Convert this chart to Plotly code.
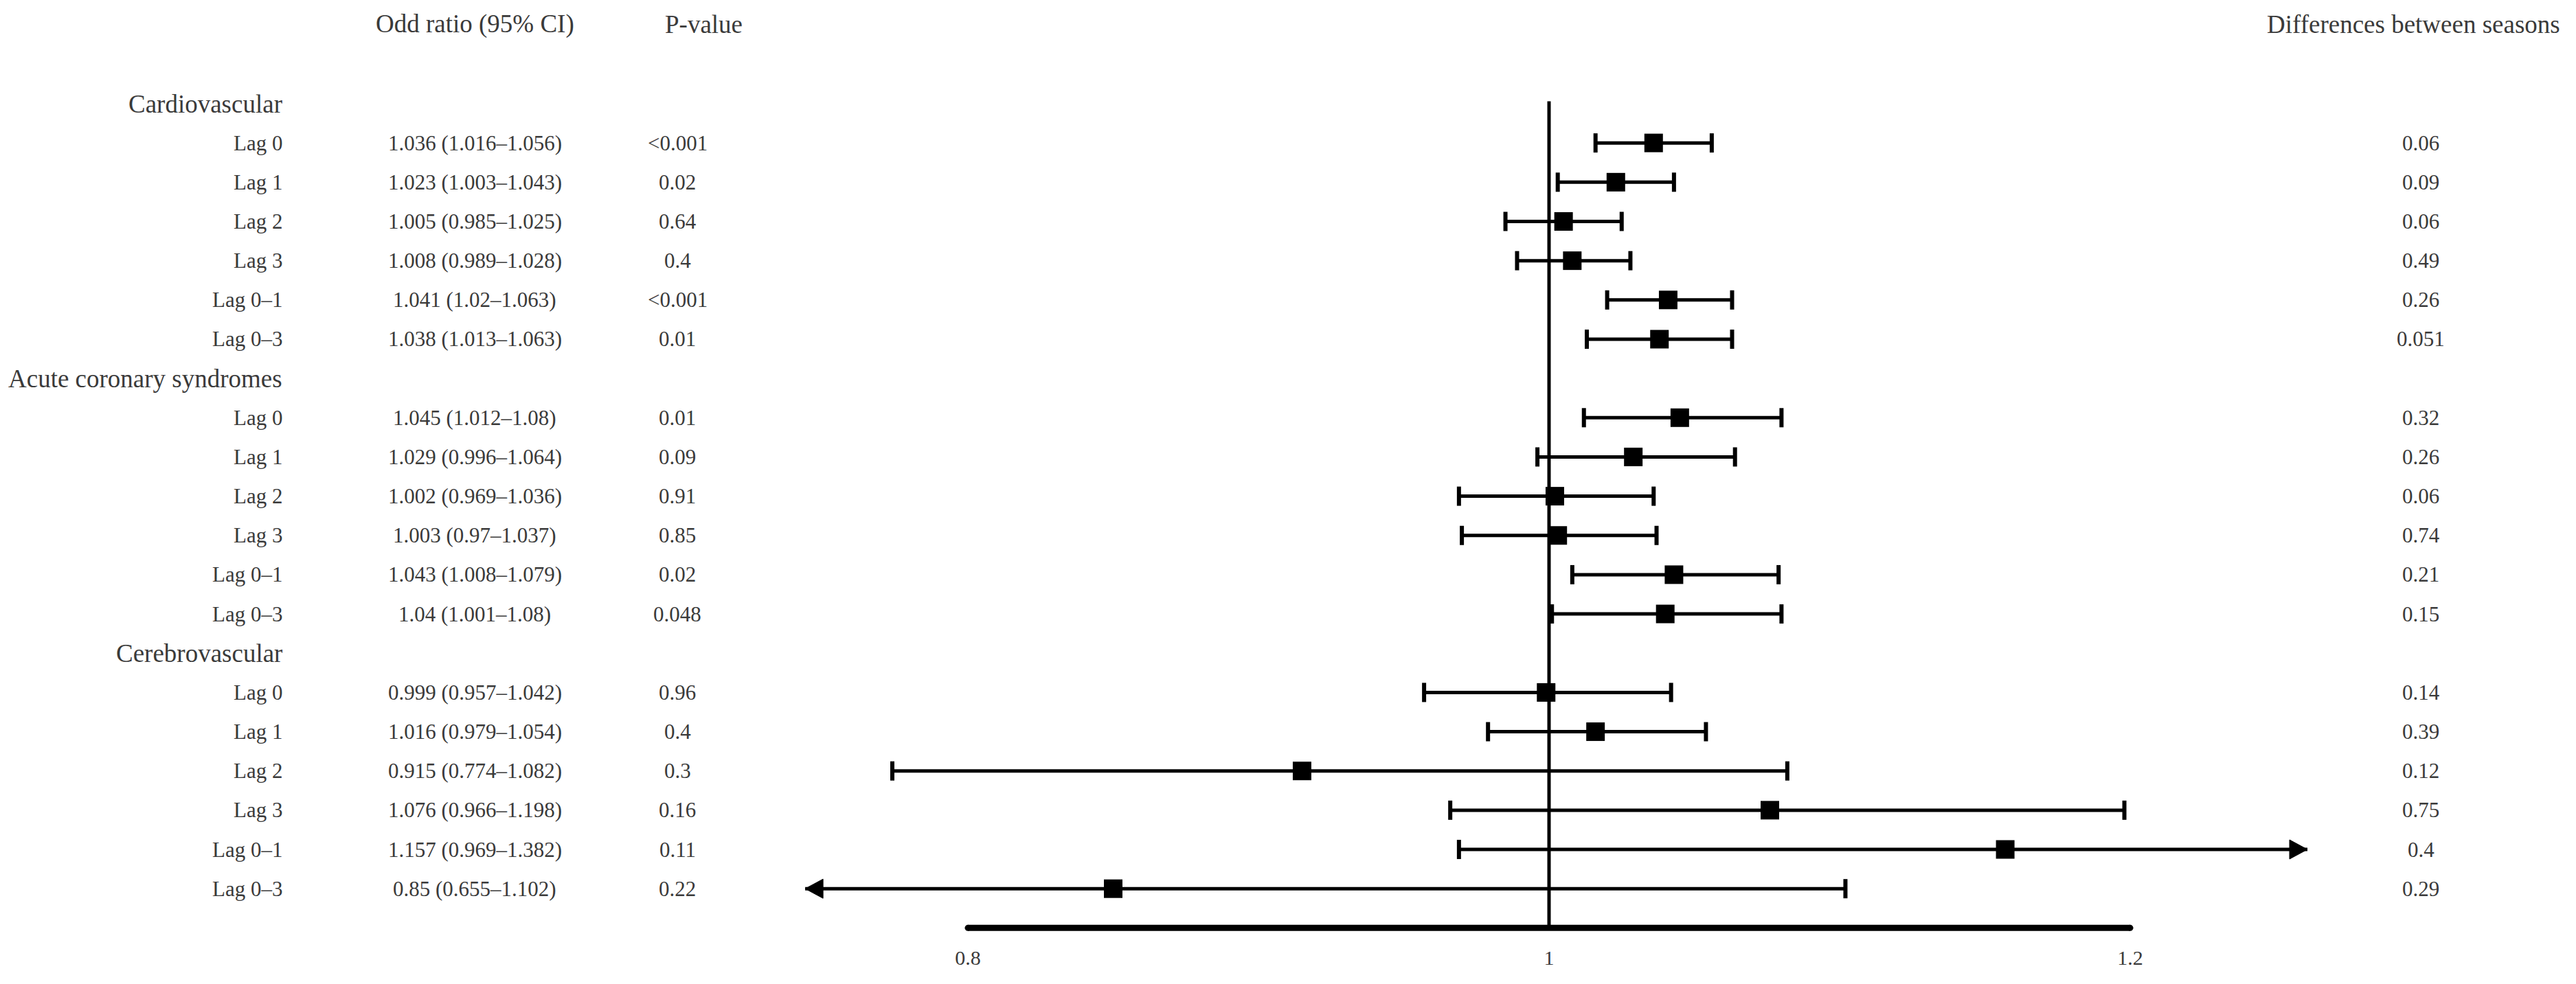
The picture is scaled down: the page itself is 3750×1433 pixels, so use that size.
import plotly.graph_objects as go

# ---------------- data ----------------
groups = ["Cardiovascular", "Acute coronary syndromes", "Cerebrovascular"]
lags = ["Lag 0", "Lag 1", "Lag 2", "Lag 3", "Lag 0–1", "Lag 0–3"]

or_cardio = [1.036, 1.023, 1.005, 1.008, 1.041, 1.038]
lo_cardio = [1.016, 1.003, 0.985, 0.989, 1.02, 1.013]
hi_cardio = [1.056, 1.043, 1.025, 1.028, 1.063, 1.063]
p_cardio = ["<0.001", "0.02", "0.64", "0.4", "<0.001", "0.01"]
diff_cardio = ["0.06", "0.09", "0.06", "0.49", "0.26", "0.051"]

or_acs = [1.045, 1.029, 1.002, 1.003, 1.043, 1.04]
lo_acs = [1.012, 0.996, 0.969, 0.97, 1.008, 1.001]
hi_acs = [1.08, 1.064, 1.036, 1.037, 1.079, 1.08]
p_acs = ["0.01", "0.09", "0.91", "0.85", "0.02", "0.048"]
diff_acs = ["0.32", "0.26", "0.06", "0.74", "0.21", "0.15"]

or_cereb = [0.999, 1.016, 0.915, 1.076, 1.157, 0.85]
lo_cereb = [0.957, 0.979, 0.774, 0.966, 0.969, 0.655]
hi_cereb = [1.042, 1.054, 1.082, 1.198, 1.382, 1.102]
p_cereb = ["0.96", "0.4", "0.3", "0.16", "0.11", "0.22"]
diff_cereb = ["0.14", "0.39", "0.12", "0.75", "0.4", "0.29"]

x_ticks = [0.8, 1, 1.2]
x_tick_labels = ["0.8", "1", "1.2"]
ref_value = 1
clip_low, clip_high = 0.744, 1.261

headers = ["Odd ratio (95% CI)", "P-value", "Differences between seasons"]

# ---------------- layout constants ----------------
W, H = 3750, 1433
MB = 59
PLOT_H = H - MB
PX_PER_UNIT = 4230.0          # x pixels per OR unit
X_REF_PX = 2255.0             # pixel of OR = 1
ROW0_PX = 151.0
ROW_PX = 57.16
x_range = [1 - X_REF_PX / PX_PER_UNIT, 1 + (W - X_REF_PX) / PX_PER_UNIT]
y_top = -ROW0_PX / ROW_PX
y_bot = (PLOT_H - ROW0_PX) / ROW_PX

FONT = "Liberation Serif, Times New Roman, serif"
TXT = "#3a3a3a"

or_all = [or_cardio, or_acs, or_cereb]
lo_all = [lo_cardio, lo_acs, lo_cereb]
hi_all = [hi_cardio, hi_acs, hi_cereb]
p_all = [p_cardio, p_acs, p_cereb]
d_all = [diff_cardio, diff_acs, diff_cereb]

fig = go.Figure()

rows, ors, los, his, or_txt, p_txt, d_txt, lag_txt = [], [], [], [], [], [], [], []
group_rows = []
for g in range(3):
    group_rows.append(7 * g)
    for k in range(6):
        r = 7 * g + k + 1
        rows.append(r)
        ors.append(or_all[g][k])
        los.append(lo_all[g][k])
        his.append(hi_all[g][k])
        or_txt.append(f"{or_all[g][k]} ({lo_all[g][k]}–{hi_all[g][k]})")
        p_txt.append(p_all[g][k])
        d_txt.append(d_all[g][k])
        lag_txt.append(lags[k])

axis_row = 7 * 3

# reference line
fig.add_trace(go.Scatter(x=[ref_value, ref_value], y=[-0.06, axis_row], mode="lines",
                         line=dict(color="black", width=5), hoverinfo="skip"))

# CI lines
cx, cy = [], []
for r, lo, hi in zip(rows, los, his):
    cx += [max(lo, clip_low), min(hi, clip_high), None]
    cy += [r, r, None]
fig.add_trace(go.Scatter(x=cx, y=cy, mode="lines", line=dict(color="black", width=5),
                         hoverinfo="skip"))

# caps
capx, capy = [], []
for r, lo, hi in zip(rows, los, his):
    if lo >= clip_low:
        capx.append(lo); capy.append(r)
    if hi <= clip_high:
        capx.append(hi); capy.append(r)
fig.add_trace(go.Scatter(x=capx, y=capy, mode="markers",
                         marker=dict(symbol="line-ns", size=20,
                                     line=dict(color="black", width=6)),
                         hoverinfo="skip"))

# arrowheads for clipped intervals
ARW_LEN = 26 / PX_PER_UNIT
ARW_HALF = 14 / ROW_PX
for r, lo, hi in zip(rows, los, his):
    if hi > clip_high:
        fig.add_trace(go.Scatter(
            x=[clip_high, clip_high - ARW_LEN, clip_high - ARW_LEN, clip_high],
            y=[r, r - ARW_HALF, r + ARW_HALF, r], mode="lines", fill="toself",
            fillcolor="black", line=dict(color="black", width=1), hoverinfo="skip"))
    if lo < clip_low:
        fig.add_trace(go.Scatter(
            x=[clip_low, clip_low + ARW_LEN, clip_low + ARW_LEN, clip_low],
            y=[r, r - ARW_HALF, r + ARW_HALF, r], mode="lines", fill="toself",
            fillcolor="black", line=dict(color="black", width=1), hoverinfo="skip"))

# point estimates
fig.add_trace(go.Scatter(x=ors, y=rows, mode="markers",
                         marker=dict(symbol="square", size=27, color="black",
                                     line=dict(width=0)),
                         hoverinfo="skip"))

# bottom axis bar
fig.add_trace(go.Scatter(x=[x_ticks[0], x_ticks[-1]], y=[axis_row, axis_row],
                         mode="lines+markers", line=dict(color="black", width=9),
                         marker=dict(symbol="circle", size=9, color="black"),
                         hoverinfo="skip"))

ann = []
def px(p):
    return p / W

for r, t in zip(group_rows, groups):
    ann.append(dict(x=px(413), y=r, xref="paper", yref="y", text=t, showarrow=False,
                    xanchor="right", yanchor="middle", font=dict(size=37, color=TXT, family=FONT)))
for r, lt, o, p, d in zip(rows, lag_txt, or_txt, p_txt, d_txt):
    f = dict(size=31, color=TXT, family=FONT)
    ann.append(dict(x=px(413), y=r, xref="paper", yref="y", text=lt, showarrow=False,
                    xanchor="right", yanchor="middle", font=f))
    ann.append(dict(x=px(691), y=r, xref="paper", yref="y", text=o, showarrow=False,
                    xanchor="center", yanchor="middle", font=f))
    ann.append(dict(x=px(986), y=r, xref="paper", yref="y", text=p, showarrow=False,
                    xanchor="center", yanchor="middle", font=f))
    ann.append(dict(x=px(3524), y=r, xref="paper", yref="y", text=d, showarrow=False,
                    xanchor="center", yanchor="middle", font=f))

hdr_y = (35 - ROW0_PX) / ROW_PX
hf = dict(size=37, color=TXT, family=FONT)
ann.append(dict(x=px(691), y=hdr_y, xref="paper", yref="y", text=headers[0], showarrow=False,
                xanchor="center", yanchor="middle", font=hf))
ann.append(dict(x=px(1024), y=hdr_y, xref="paper", yref="y", text=headers[1], showarrow=False,
                xanchor="center", yanchor="middle", font=hf))
ann.append(dict(x=px(3729), y=hdr_y, xref="paper", yref="y", text=headers[2], showarrow=False,
                xanchor="right", yanchor="middle", font=hf))

fig.update_layout(
    width=W, height=H,
    margin=dict(l=0, r=0, t=0, b=MB, pad=0),
    paper_bgcolor="white", plot_bgcolor="white",
    showlegend=False,
    annotations=ann,
    xaxis=dict(range=x_range, tickvals=x_ticks, ticktext=x_tick_labels,
               showgrid=False, zeroline=False, showline=False, ticks="",
               tickfont=dict(size=30, color=TXT, family=FONT), fixedrange=True),
    yaxis=dict(range=[y_bot, y_top], showgrid=False, zeroline=False, showline=False,
               showticklabels=False, ticks="", fixedrange=True),
)

fig.write_html("out.html", config={"displayModeBar": False},
               post_script="document.body.style.margin='0';")
